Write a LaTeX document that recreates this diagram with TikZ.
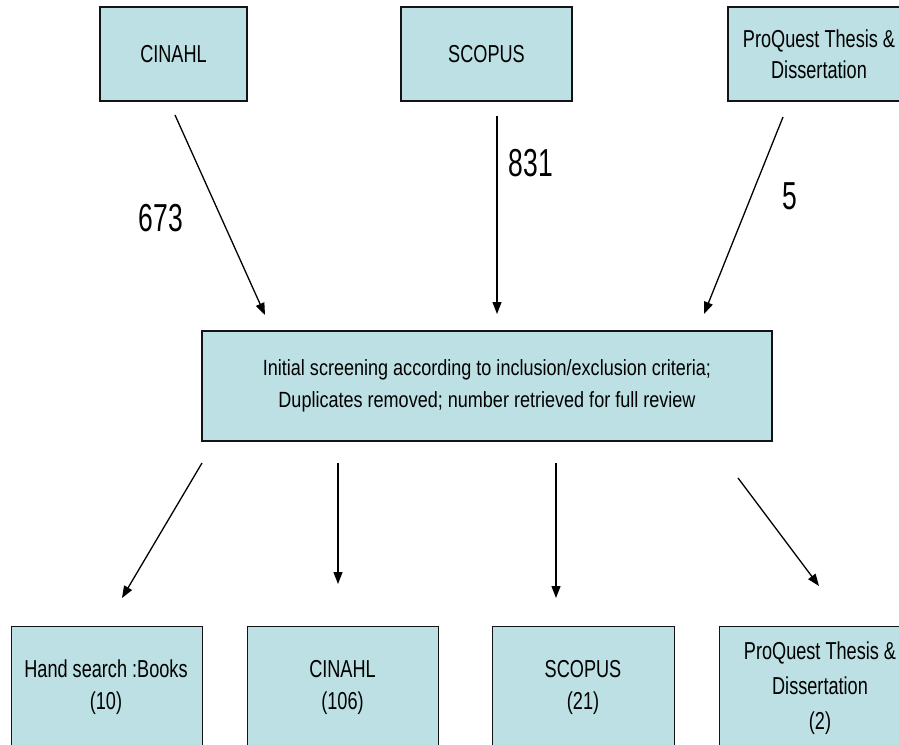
\documentclass[tikz,border=0pt]{standalone}
\usepackage{fontspec}
\setmainfont{Liberation Sans}
\newfontfamily\boxfont[FakeStretch=0.74]{Liberation Sans}
\newfontfamily\midfont[FakeStretch=0.82]{Liberation Sans}
\newfontfamily\numfont[FakeStretch=0.68]{Liberation Sans}
\usetikzlibrary{arrows.meta}
\definecolor{boxfill}{HTML}{BCE0E3}
\definecolor{boxline}{HTML}{141414}
\tikzset{
  flowbox/.style={draw=boxline, line width=1.2pt, fill=boxfill, rectangle, inner sep=0pt, align=center,
    font=\boxfont\fontsize{24.5}{31}\selectfont},
  midbox/.style={flowbox, font=\midfont\fontsize{22}{32}\selectfont},
  boxtext/.style={font=\boxfont\fontsize{24.5}{32}\selectfont, align=center, inner sep=0pt},
  numlabel/.style={font=\numfont\fontsize{39}{40}\selectfont, inner sep=0pt},
  flowarrow/.style={line width=1.3pt, -{Triangle[length=12pt,width=9pt]}}
}
\begin{document}
\begin{tikzpicture}[x=1pt,y=-1pt]
\path[use as bounding box] (0,0) rectangle (899,744);
\clip (0,0) rectangle (899,744);
% top row
\node[flowbox, minimum width=147pt, minimum height=94pt] (tcin) at (173.5,54) {CINAHL};
\node[flowbox, minimum width=171pt, minimum height=94pt] (tsco) at (486.5,54) {SCOPUS};
\node[flowbox, minimum width=182pt, minimum height=94pt] (tpro) at (819,54) {ProQuest Thesis \&\\Dissertation};
% middle
\node[midbox, minimum width=570pt, minimum height=110pt] (mid) at (487,386) {Initial screening according to inclusion/exclusion criteria;\\Duplicates removed; number retrieved for full review};
% bottom row
\node[flowbox, minimum width=191pt, minimum height=128pt, anchor=north west] (bhand) at (11,626) {};
\node[flowbox, minimum width=191pt, minimum height=128pt, anchor=north west] (bcin) at (247,626) {};
\node[flowbox, minimum width=182pt, minimum height=128pt, anchor=north west] (bsco) at (492,626) {};
\node[flowbox, minimum width=190pt, minimum height=128pt, anchor=north west] (bpro) at (719,626) {};
\node[boxtext] (thand) at (106,687) {Hand search :Books\\(10)};
\node[boxtext] (tbcin) at (342.5,687) {CINAHL\\(106)};
\node[boxtext] (tbsco) at (583,687) {SCOPUS\\(21)};
\node[boxtext, font=\boxfont\fontsize{24.5}{35}\selectfont] (tbpro) at (820,688) {ProQuest Thesis \&\\Dissertation\\(2)};
% connector endpoints
\coordinate (a1s) at (175,115);  \coordinate (a1e) at (265,315);
\coordinate (a2s) at (497,116);  \coordinate (a2e) at (497,314);
\coordinate (a3s) at (783,117);  \coordinate (a3e) at (704,314);
\coordinate (b1s) at (202,463);  \coordinate (b1e) at (122,598);
\coordinate (b2s) at (338,463);  \coordinate (b2e) at (338,584);
\coordinate (b3s) at (556,463);  \coordinate (b3e) at (556,598);
\coordinate (b4s) at (738,478);  \coordinate (b4e) at (819,586);
\draw[flowarrow] (a1s) -- (a1e);
\draw[flowarrow] (a2s) -- (a2e);
\draw[flowarrow] (a3s) -- (a3e);
\draw[flowarrow] (b1s) -- (b1e);
\draw[flowarrow] (b2s) -- (b2e);
\draw[flowarrow] (b3s) -- (b3e);
\draw[flowarrow] (b4s) -- (b4e);
% labels
\node[numlabel] (n673) at (161,218) {673};
\node[numlabel] (n831) at (531,163) {831};
\node[numlabel] (n5) at (790,196) {5};
\end{tikzpicture}
\end{document}
